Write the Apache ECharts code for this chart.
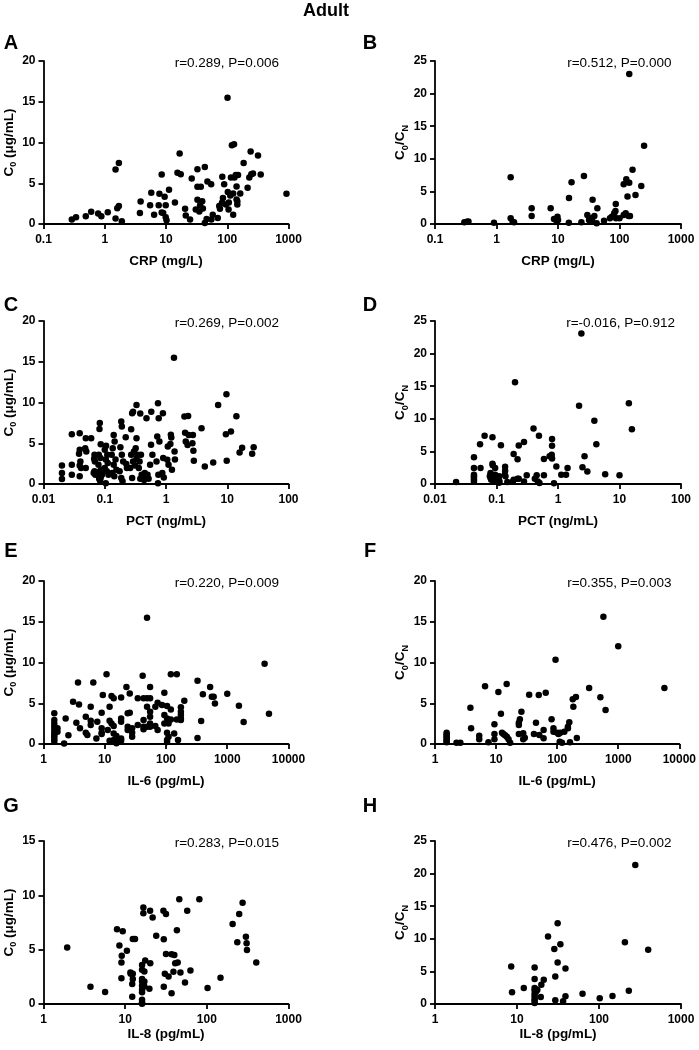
<!DOCTYPE html>
<html>
<head>
<meta charset="utf-8">
<script src="https://cdn.jsdelivr.net/npm/echarts@6/dist/echarts.min.js"></script>
<style>
html,body{margin:0;padding:0;background:#fff;}
#chart{width:699px;height:1050px;}
</style>
</head>
<body>
<div id="chart"></div>
<script>
// ---------------- DATA ----------------
const figureTitle = 'Adult';
const panelLetters = ['A','B','C','D','E','F','G','H'];
const xAxisNames = ['CRP (mg/L)','CRP (mg/L)','PCT (ng/mL)','PCT (ng/mL)','IL-6 (pg/mL)','IL-6 (pg/mL)','IL-8 (pg/mL)','IL-8 (pg/mL)'];
const yAxisKinds = ['c0','ratio','c0','ratio','c0','ratio','c0','ratio'];
const annotations = ['r=0.289, P=0.006','r=0.512, P=0.000','r=0.269, P=0.002','r=-0.016, P=0.912','r=0.220, P=0.009','r=0.355, P=0.003','r=0.283, P=0.015','r=0.476, P=0.002'];

const crpTicks = ['0.1','1','10','100','1000'];
const pctTicks = ['0.01','0.1','1','10','100'];
const il6Ticks = ['1','10','100','1000','10000'];
const il8Ticks = ['1','10','100','1000'];
const yMaxes = [20,25,20,25,20,20,15,25];

// A: CRP vs C0
const aCRP = [0.29,0.34,0.49,0.6,0.78,0.88,1.12,1.5,1.7,1.5,1.6,1.7,1.9,3.85,3.75,5.75,5.5,6.4,7.8,7.6,8.5,8.5,9.5,9.9,9.0,9.9,10.2,11.2,14,15.4,17.4,16.7,20.5,21,24.7,26.3,32.6,32.6,32.6,37,36,30.6,35,40,43,39,43,46,47.5,54.6,58,55,70,74,76,83,89,82,85,101,102,106,105,115,119,129,125,125,131,138,142,142,146,146,150,163,185,215,229,247,241,263,318,352,927,112,95];
const aC0 = [0.54,0.82,0.95,1.5,1.28,0.95,1.44,6.7,7.5,0.66,1.94,2.2,0.33,2.76,1.36,3.83,2.3,1.15,3.71,2.3,6.06,1.4,3.34,2.3,1.36,0.82,0.45,4.2,2.64,6.3,6.1,8.66,1.86,1.03,0.54,5.57,6.72,4.58,2.97,4.58,2.3,1.77,1.52,1.9,7.0,2.8,0.12,0.62,5.2,4.87,1.15,0.54,0.74,2.2,1.86,5.8,4.87,2.6,3.2,15.5,3.92,2.64,1.77,5.7,9.65,9.8,1.15,3.75,5.7,6.0,4.6,3.0,2.8,2.4,6.0,3.75,7.5,4.45,5.7,6.1,8.9,6.2,8.4,6.06,3.7,3.5,2.4];

// B: CRP vs C0/CN
const bCRP = [0.3,0.33,0.35,0.91,1.7,1.7,1.83,1.93,3.73,3.73,7.6,8.6,9.8,10,9.5,15.1,16.6,15,24,26.4,30,32,34.5,36,36.5,39,42.5,43.6,56,70,75,82,86,87,88,100,117,126,140,129,135,144,144,148,163,182,226,251,117];
const bRatio = [0.25,0.35,0.4,0.2,7.16,0.87,0.36,0.25,2.4,1.23,2.4,0.77,1.12,0.6,0.5,4.0,6.4,0.2,0.25,7.36,1.38,0.6,0.87,0.5,3.73,1.23,0.1,2.4,0.5,0.87,1.12,1.64,2.0,3.07,0.87,0.87,6.08,1.64,1.23,6.85,4.2,23,6.34,1.23,8.33,4.45,5.83,12.0,1.38];

// C: PCT vs C0
const cPCT = [0.02,0.02,0.02, 0.029,0.029,0.029, 0.039,0.039,0.038,0.04,0.039,0.041,0.039, 0.049,0.048,0.05,0.049, 0.06,
  0.068,0.067,0.069,0.068,0.066,0.07,
  0.083,0.082,0.086,0.08,0.085,0.079,0.088,0.083,0.078,0.09,0.086,0.081,0.084,
  0.105,0.1,0.11,0.104,0.112,0.1,0.108,0.115,0.104,
  0.14,0.145,0.135,0.13,0.15,0.14,0.155,0.132,0.143,
  0.186,0.19,0.18,0.19,0.2,0.175,0.186,0.195,
  0.22,0.225,0.23,
  0.28,0.29,0.27,0.3,0.27,0.29,0.26,0.28,
  0.33,0.33,0.32,0.34,0.33,0.31,
  0.38,0.39,0.37,0.36,0.4,0.38,
  0.48,0.45,0.5,0.47,0.52,0.44,
  0.575,0.57,0.6,0.55,
  0.74,0.76,0.72,0.78,0.7,0.75,0.74,
  0.89,0.9,0.87,0.92,
  1.07,1.05,1.1,
  1.2,1.22,1.18,1.25,
  1.38,1.4,1.35,
  2.0,2.05,2.1, 2.3,2.35,2.25, 2.75,2.7,2.8,2.85,
  3.8,4.3,5.9,7.1,9.7,9.5,9.8,11.5,14.1,15.9,17.5,25.5,27];
const cC0 = [2.28,1.34,0.61, 6.1,2.36,1.14, 6.23,4.2,3.7,2.77,2.28,1.96,0.94, 5.6,4.4,4.0,1.96, 5.6,
  3.58,3.1,2.77,1.55,1.34,1.14,
  7.5,6.76,4.89,3.58,3.2,2.36,1.75,1.55,1.34,1.14,0.81,0.65,0.4,
  4.7,4.2,3.58,3.0,2.57,1.96,1.55,1.14,0.08,
  6.0,5.2,4.4,3.58,3.0,2.36,1.75,1.34,0.94,
  7.66,7.05,4.5,3.58,2.77,1.55,0.73,0.33,
  5.74,2.44,1.96,
  8.68,8.88,6.72,4.0,3.58,2.77,1.96,0.73,
  9.69,5.62,4.4,3.58,3.1,2.28,
  8.64,3.58,2.77,1.96,1.14,0.65,
  8.07,1.34,1.14,0.94,0.65,0.49,
  8.88,4.81,3.58,2.36,
  9.9,8.07,5.82,5.2,2.77,1.14,0.08,
  8.68,3.18,1.34,0.81,
  4.6,2.97,2.36,
  6.03,5.7,4.9,1.75,
  4.0,3.0,15.5,
  8.27,6.3,5.2, 8.35,6.0,4.8, 6.0,5.0,4.07,2.85,
  6.84,2.16,2.65,9.7,11.0,6.1,2.85,6.44,8.3,3.87,4.44,3.7,4.5];

// D: PCT vs C0/CN
const dPCT = [0.022, 0.043,0.043,0.043,0.043,0.043,0.043,0.043, 0.054,0.055,0.064,
  0.08,0.08,0.078,0.08,0.082, 0.086,0.086,0.087, 0.095,0.095,0.097,0.095, 0.118,
  0.11,0.108,0.112,0.11, 0.138,0.138,0.136,0.14, 0.15, 0.19,0.19,0.185, 0.2,
  0.22,0.22, 0.23,0.23, 0.28,0.28, 0.31, 0.4, 0.45,0.42,0.47,0.5, 0.49,
  0.59,0.59, 0.73, 0.8,0.8,0.79,0.8, 0.86, 0.94, 1.13,1.35,1.43, 2.2,2.4,2.5,2.7,3.0,3.9,4.2,5.85,10,14.2,15.9];
const dRatio = [0.3, 4.1,2.45,1.43,1.18,0.92,0.66,0.4, 6.1,2.45,7.4,
  1.7,1.43,1.18,0.92,0.66, 7.16,3.1,2.86, 2.45,1.43,0.92,0.4, 5.93,
  1.18,0.82,0.4,0.2, 2.66,2.04,1.43,1.18, 0.3, 4.6,0.66,0.4, 15.6,
  3.78,0.82, 5.9,0.82, 6.44,0.4, 1.33, 8.5, 1.33,0.82,0.4,0.15, 7.4,
  3.83,1.33, 4.25, 6.9,5.88,4.5,3.9, 0.1, 2.7, 1.43,1.43,2.45, 12.0,23.1,2.56,4.25,1.9,9.7,6.1,1.48,1.33,12.4,8.4];

// E: IL-6 vs C0
const eIL6 = [1.5,1.5,1.5,1.5,1.5,1.5,1.5,1.5,1.5,1.5, 1.69,1.69, 2.17,2.3,2.55,3.04,3.66,3.8,3.44,3.94,
  4.9,4.9,5.2, 5.9,5.9,5.9, 6.5,7.3,7.55, 8.9,8.9,8.9,8.9, 9.3,10.7,11.2, 12,12,12, 12.9,12.9,
  14,14,14,14, 15.5,15.5,15.5, 18.5,18.5,18.5,18.5,18.5, 22.6, 23.7,23.7,23.7, 25.6,25.6, 28,28,28,
  34.6,34.6, 41.6, 43,43,43,43, 49,49,49,49, 55,55,55,55,55,55, 67,67, 73,73, 86, 94,94,94,
  104,104,104,104,104, 110,110, 120,120,120, 136, 150,150, 157, 175,175,175,175,175, 199,
  327,327, 375, 400, 525,560,600,630, 1000, 1550, 1850, 4070, 4800];
const eC0 = [3.76,2.94,2.53,2.12,1.71,1.39,1.1,0.9,0.57,0.29, 1.92,1.51, 0.05,3.14,1.06,5.18,7.55,4.86,2.61,1.92,
  3.35,1.39,1.1, 4.57,2.86,2.33, 7.55,0.69,2.73, 3.84,1.92,1.39,1.22, 6.0,8.57,1.71, 4.57,2.86,0.41, 5.88,2.53,
  5.6,2.2,1.3,0.5, 0.98,0.29,0.08, 5.7,3.14,2.73,0.69,0.41, 7.0, 3.76,2.12,1.71, 6.2,3.84, 1.92,1.39,0.9,
  5.6,2.33, 8.37, 5.6,2.94,2.12,1.8, 15.5,5.6,4.57,2.12, 7.0,5.6,3.96,3.35,2.53,2.12, 4.57,2.2, 5.06,1.71, 4.78, 6.3,3.55,2.53,
  4.65,3.14,1.39,0.49,0.24, 2.53,0.9, 8.57,4.24,3.02, 1.3, 8.57,3.02, 0.49, 4.5,3.96,3.55,3.14,2.94, 5.3,
  7.76,0.73, 2.82, 6.1, 7.0,5.8,5.8,4.98, 6.16, 4.7, 2.7, 9.84, 3.7];

// F: IL-6 vs C0/CN
const fIL6 = [1.55,1.55,1.55,1.55,1.55,1.55,1.55, 2.25,2.6, 3.8,3.9, 5.3,5.3, 6.6,7.5, 9.4,9.4,9.4, 10.9,12.0,
  12.5,13.2,14, 14.9, 15,16,17, 23.6,23.6,23.6, 24.5,26, 27.8,27.8, 29.5, 34.8, 41.7, 45, 50, 51, 60,60, 65,
  81, 87,87, 94, 100,105,110,120, 112, 131, 150,150, 158, 162, 184, 180, 203, 210, 334, 510, 572, 620, 1000, 5700];
const fRatio = [1.39,1.19,0.98,0.78,0.57,0.37,0.2, 0.16,0.16, 4.46,1.92, 1.02,0.57, 7.1,0.2, 2.41,1.23,0.57, 6.38,3.72,
  1.39,1.23,1.06, 7.36, 0.9,0.57,0.16, 2.62,2.33,1.23, 3.03,3.97, 1.31,0.57, 0.78, 6.05, 1.23, 2.62, 6.0, 1.1, 1.72,0.7, 6.3,
  3.03, 1.92,1.51, 10.35, 1.39,1.23,0.29,0.16, 1.39, 1.51, 2.12,1.92, 2.66, 0.2, 4.58, 5.48, 5.77, 0.74, 6.87, 5.73, 15.6, 4.17, 11.98, 6.87];

// G: IL-8 vs C0
const gIL8 = [1.95,3.76,5.68,7.95,9.34,8.5,9.08,9.0,9.0,10.5,11.6,11.7,12.2,12.4,12.4,12.2,12.4,13.2,
  16.7,16.7, 16.1,16.1,16.1,16.1,16.1,16.1,16.1,16.1,16.1,16.1, 17.2,17.2,17.2, 17.6,19.8,20.2,20.3,21.7,24,
  29.4,29.7,29.7,30.6,31.6,31.6,34,37,37,39,40,41,43,44,46,47.5,54,57.5,63,81,102,147,207,236,249,274,301,307,310,403];
const gC0 = [5.19,1.59,1.1,6.87,6.69,5.38,4.43,3.82,2.38,4.89,2.9,2.78,1.83,2.78,2.29,0.67,5.99,5.99,
  8.89,8.34, 3.6,3.15,2.29,2.08,1.68,1.31,1.07,0.4,0.15,0.02, 2.99,2.08,1.62, 4.0,1.4,8.59,3.76,7.97,6.29,
  8.59,5.96,1.59,2.78,8.28,4.61,2.54,4.58,1.0,2.96,4.5,3.76,6.78,3.82,9.65,2.9,1.99,8.59,3.09,9.65,1.47,2.41,7.36,5.68,8.28,9.32,6.2,5.59,4.98,3.82];

// H: IL-8 vs C0/CN
const hIL8 = [8.5,8.7,12.1,16.4,16.4,16.4,16.4,16.4,16.4,16.4,16.4,16.4,17.2,17.7,19.5,19.8,21.2,23.9,28.5,29.3,29.3,31.3,31.3,33.8,36.5,39,39,63,102,146,207,231,277,398];
const hRatio = [5.77,1.79,2.45,5.6,3.83,2.45,2.09,1.58,1.17,0.77,0.51,0.15,1.94,2.19,1.07,2.96,3.72,10.36,8.42,4.23,0.56,12.4,6.38,9.18,0.41,5.46,1.17,1.58,0.87,1.22,9.49,2.04,21.3,8.32];

// ---------------- CHART ----------------
const FONT = '"Liberation Sans", Arial, Helvetica, sans-serif';
const xData = [aCRP,bCRP,cPCT,dPCT,eIL6,fIL6,gIL8,hIL8];
const yData = [aC0,bRatio,cC0,dRatio,eC0,fRatio,gC0,hRatio];
const xTickSets = [crpTicks,crpTicks,pctTicks,pctTicks,il6Ticks,il6Ticks,il8Ticks,il8Ticks];

const colLeft = [43.5, 435];
const colWidth = [245, 246];
const rowTop = [61, 321, 581, 841];
const gridH = 163;
const letterY = [43.5, 305, 551, 806];
const letterX = [11, 370];

const grids = [], xAxes = [], yAxes = [], series = [], graphics = [];

const nameRich = {
  b: {fontSize: 13.5, fontWeight: 'bold', fontFamily: FONT, color: '#000', lineHeight: 18},
  s: {fontSize: 9, fontWeight: 'bold', fontFamily: FONT, color: '#000', lineHeight: 18, verticalAlign: 'bottom', padding: [0,0,0,0]}
};
const AXW = 1.8;

for (let i = 0; i < 8; i++) {
  const col = i % 2, row = Math.floor(i / 2);
  const left = colLeft[col], top = rowTop[row], w = colWidth[col];
  grids.push({left: left, top: top, width: w, height: gridH, containLabel: false});
  const ticks = xTickSets[i];
  const minV = Number(ticks[0]), maxV = Number(ticks[ticks.length - 1]);
  const minExp = Math.round(Math.log10(minV));
  xAxes.push({
    gridIndex: i, type: 'log', logBase: 10, min: minV, max: maxV,
    name: xAxisNames[i], nameLocation: 'middle', nameGap: row === 3 ? 21 : 30,
    nameTextStyle: {fontSize: 13.5, fontWeight: 'bold', fontFamily: FONT, color: '#000'},
    axisLine: {show: true, onZero: false, lineStyle: {color: '#000', width: AXW}},
    axisTick: {show: true, inside: false, length: 5, lineStyle: {color: '#000', width: AXW}},
    minorTick: {show: false}, splitLine: {show: false}, minorSplitLine: {show: false},
    axisLabel: {
      margin: 10, fontSize: 12, fontWeight: 'bold', fontFamily: FONT, color: '#000',
      formatter: function (v) { const k = Math.round(Math.log10(v)) - minExp; return ticks[k] !== undefined ? ticks[k] : ''; }
    }
  });
  const yName = yAxisKinds[i] === 'c0' ? '{b|C}{s|0}{b| (μg/mL)}' : '{b|C}{s|0}{b|/C}{s|N}';
  yAxes.push({
    gridIndex: i, type: 'value', min: 0, max: yMaxes[i], interval: 5,
    name: yName, nameLocation: 'middle', nameGap: 25, nameRotate: 90,
    nameTextStyle: {rich: nameRich, fontSize: 13.5, fontWeight: 'bold', fontFamily: FONT, color: '#000'},
    axisLine: {show: true, lineStyle: {color: '#000', width: AXW}},
    axisTick: {show: true, inside: false, length: 5, lineStyle: {color: '#000', width: AXW}},
    splitLine: {show: false},
    axisLabel: {margin: 8, fontSize: 12, fontWeight: 'bold', fontFamily: FONT, color: '#000'}
  });
  const pts = xData[i].map((x, k) => [x, yData[i][k]]);
  series.push({
    type: 'scatter', xAxisIndex: i, yAxisIndex: i, data: pts,
    symbol: 'circle', symbolSize: 6.5,
    itemStyle: {color: '#000', opacity: 1}, silent: true, animation: false
  });
  graphics.push({
    type: 'text', x: left + w - (i === 3 ? 6 : 9.5), y: top + 2,
    style: {text: annotations[i], font: '13.5px ' + FONT, fill: '#000', align: 'right', verticalAlign: 'middle', textAlign: 'right', textVerticalAlign: 'middle'}
  });
  graphics.push({
    type: 'text', x: letterX[col], y: letterY[row],
    style: {text: panelLetters[i], font: 'bold 20px ' + FONT, fill: '#000', align: 'center', verticalAlign: 'middle', textAlign: 'center', textVerticalAlign: 'middle'}
  });
}
graphics.push({
  type: 'text', x: 326, y: 11,
  style: {text: figureTitle, font: 'bold 18px ' + FONT, fill: '#000', align: 'center', verticalAlign: 'middle', textAlign: 'center', textVerticalAlign: 'middle'}
});

const chart = echarts.init(document.getElementById('chart'), null, {renderer: 'canvas'});
chart.setOption({
  backgroundColor: '#fff',
  animation: false,
  grid: grids, xAxis: xAxes, yAxis: yAxes, series: series,
  graphic: graphics
});
</script>
</body>
</html>
